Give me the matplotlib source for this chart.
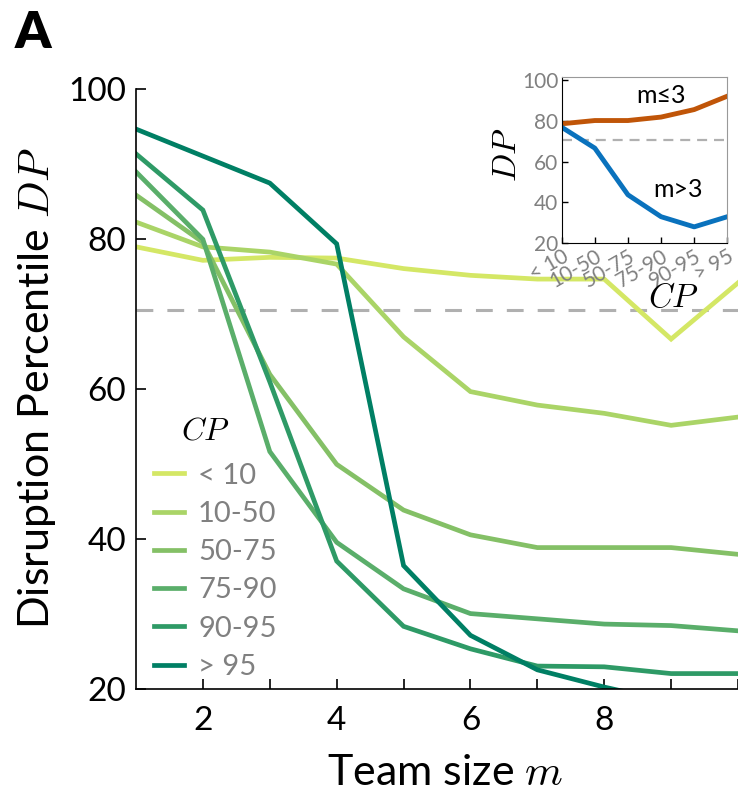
import numpy as np
import matplotlib
matplotlib.use("Agg")
import matplotlib.pyplot as plt

plt.rcParams['font.family'] = ['Lato', 'DejaVu Sans']
plt.rcParams['mathtext.fontset'] = 'cm'

# ===== data =====
team_size = [1, 2, 3, 4, 5, 6, 7, 8, 9, 10]
cp_labels = ['< 10', '10-50', '50-75', '75-90', '90-95', '> 95']
dp_lt10 = [79.0, 77.2, 77.6, 77.5, 76.1, 75.2, 74.7, 74.7, 66.7, 74.2]
dp_10_50 = [82.3, 79.0, 78.3, 76.7, 67.0, 59.7, 57.9, 56.8, 55.2, 56.3]
dp_50_75 = [85.9, 79.6, 62.0, 50.0, 43.9, 40.6, 38.9, 38.9, 38.9, 38.0]
dp_75_90 = [89.0, 80.0, 51.7, 39.6, 33.4, 30.1, 29.4, 28.7, 28.5, 27.8]
dp_90_95 = [91.4, 83.9, 61.0, 37.1, 28.4, 25.4, 23.1, 23.0, 22.1, 22.1]
dp_gt95 = [94.7, 91.1, 87.5, 79.4, 36.5, 27.2, 22.6, 20.3, 18.3, 17.5]
series = [dp_lt10, dp_10_50, dp_50_75, dp_75_90, dp_90_95, dp_gt95]
colors = ['#d4e765', '#aad467', '#84c066', '#5aae6a', '#2e9a66', '#007f64']
threshold = 70.6

# inset
inset_cp = ['< 10', '10-50', '50-75', '75-90', '90-95', '> 95']
dp_small = [78.6, 80.2, 80.2, 81.9, 85.6, 92.2]   # m <= 3
dp_large = [76.9, 66.6, 43.6, 32.8, 27.8, 32.8]   # m > 3

# ===== main axes =====
fig = plt.figure(figsize=(7.38, 7.97), dpi=100)
ax = fig.add_axes([0.1843, 0.1351, 0.8157, 0.7528])

for vals, c, lab in zip(series, colors, cp_labels):
    ax.plot(team_size, vals, color=c, lw=3.4, label=lab, solid_joinstyle='miter')
ax.axhline(threshold, color='#b0b0b0', lw=2.2, dashes=(5.5, 4.6), zorder=0)

ax.set_xlim(1, 10)
ax.set_ylim(20, 100)
ax.set_xticks(range(2, 11))
ax.set_xticklabels(['2', '', '4', '', '6', '', '8', '', ''])
ax.set_yticks([20, 40, 60, 80, 100])
ax.tick_params(direction='in', length=7, width=1.2, labelsize=24)
ax.tick_params(axis='x', pad=12)
ax.tick_params(axis='y', pad=7)
for s in ['top', 'right']:
    ax.spines[s].set_visible(False)
for s in ['left', 'bottom']:
    ax.spines[s].set_linewidth(1.2)

ax.set_xlabel('Team size $m$', fontsize=31)
ax.xaxis.set_label_coords(0.514, -0.108)
ax.set_ylabel('Disruption Percentile $DP$', fontsize=31)
ax.yaxis.set_label_coords(-0.13, 0.502)

leg = ax.legend(loc='upper left', bbox_to_anchor=(0.03, 0.378), frameon=False,
                fontsize=21, handlelength=1.03, handletextpad=0.48,
                labelspacing=0.42, borderpad=0, borderaxespad=0)
for t in leg.get_texts():
    t.set_color('#808080')
ax.text(0.115, 0.432, '$CP$', fontsize=23, ha='center', va='center',
        transform=ax.transAxes)

fig.text(0.02, 0.988, 'A', fontsize=37, fontweight='heavy', va='top', ha='left')

# ===== inset =====
ins = fig.add_axes([0.7611, 0.6955, 0.2244, 0.2075])
xi = np.arange(len(inset_cp))
ins.plot(xi, dp_small, color='#c05508', lw=3.5)
ins.plot(xi, dp_large, color='#0a72bd', lw=3.5)
ins.axhline(70.5, color='#b0b0b0', lw=1.6, dashes=(4.5, 3.1), zorder=0)
ins.text(3.0, 92.5, 'm≤3', fontsize=18, ha='center', va='center')
ins.text(3.5, 46, 'm>3', fontsize=18, ha='center', va='center')

ins.set_xlim(0, 5)
ins.set_ylim(20, 101.5)
ins.set_yticks([20, 40, 60, 80, 100])
ins.set_xticks(xi)
ins.set_xticklabels(inset_cp, rotation=30, ha='right', va='top',
                    rotation_mode='anchor')
ins.tick_params(direction='in', length=4, width=1, labelsize=15,
                labelcolor='#808080', pad=2.5)
for s in ['top', 'right']:
    ins.spines[s].set_color('#999999')
    ins.spines[s].set_linewidth(0.8)
ins.set_ylabel('$DP$', fontsize=24)
ins.yaxis.set_label_coords(-0.24, 0.53)
ins.set_xlabel('$CP$', fontsize=24)
ins.xaxis.set_label_coords(0.674, -0.245)

fig.savefig('out.png', dpi=100)
